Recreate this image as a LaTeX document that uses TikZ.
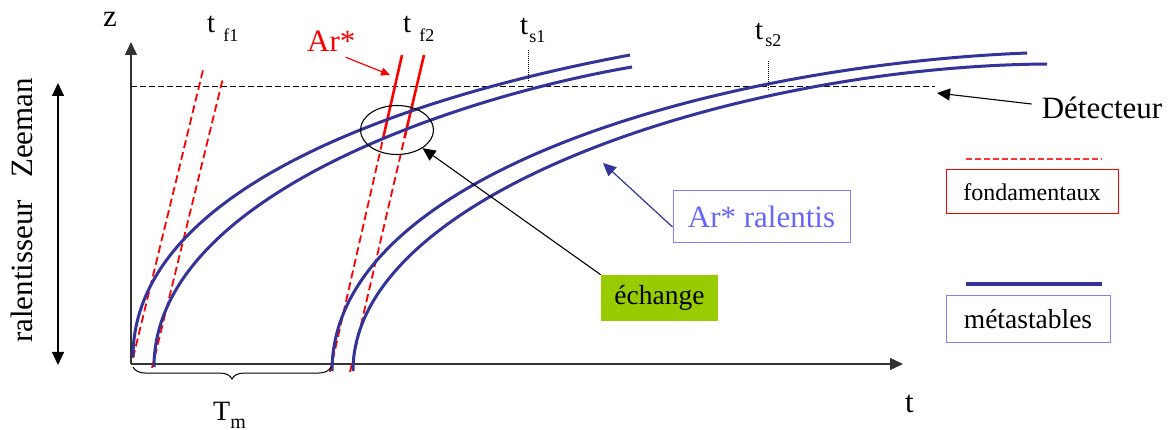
\documentclass[tikz,border=0pt]{standalone}
\usepackage{fontspec}
\setmainfont{Liberation Serif}
\usetikzlibrary{arrows.meta,shapes.geometric,decorations.pathreplacing}
\definecolor{meta}{HTML}{333399}
\definecolor{vert}{HTML}{99CC00}
\definecolor{lblue}{HTML}{6666FF}
\definecolor{bblue}{HTML}{8080FF}
\newcommand{\fs}[1]{\fontsize{#1}{#1}\selectfont}
\tikzset{
  metaline/.style={draw=meta, line width=3pt},
  fondline/.style={draw=red, line width=1.8pt, dash pattern=on 8pt off 4pt},
  fondsolid/.style={draw=red, line width=2.6pt},
  axis/.style={draw=black!80, line width=1.4pt},
  lbl/.style={inner sep=0pt, anchor=base west, font=\fs{29}},
  tip/.style={-{Triangle[length=13pt,width=12pt]}},
}
\begin{document}
\begin{tikzpicture}[x=1pt,y=-1pt]
\useasboundingbox (0,0) rectangle (1173,430);
% axes
\coordinate (O) at (131,364);
\coordinate (ztop) at (131,42);
\coordinate (tend) at (903,364);
\draw[axis, tip] (O) -- (ztop);
\draw[axis, tip] (O) -- (tend);
\node[lbl, font=\fs{31}] (zl) at (103,27) {z};
\node[lbl, font=\fs{31}] (tl) at (905,412) {t};
% detector line
\coordinate (detL) at (131,87);
\coordinate (detR) at (935,87);
\draw[line width=1pt, dash pattern=on 6pt off 3pt] (detL) -- (detR);
% left double arrow
\coordinate (za) at (58,83);
\coordinate (zb) at (58,365);
\draw[line width=1.2pt, {Triangle[length=13pt,width=12pt]}-{Triangle[length=13pt,width=12pt]}] (za) -- (zb);
\node[inner sep=0pt, anchor=base west, rotate=90, font=\fs{31}] (ral) at (32,343) {ralentisseur\hspace{22pt}Zeeman};
% red fundamental lines
\coordinate (a1) at (133,358); \coordinate (a2) at (203.5,68);
\coordinate (b1) at (152,368); \coordinate (b2) at (223,78);
\draw[fondline] (a1) -- (a2);
\draw[fondline] (b1) -- (b2);
\coordinate (c1) at (330,372); \coordinate (c2) at (383.4,137); \coordinate (c3) at (402,55);
\coordinate (d1) at (350,372); \coordinate (d2) at (404.5,138); \coordinate (d3) at (424,55);
\draw[fondline] (c1) -- (c2);
\draw[fondline] (d1) -- (d2);
\draw[fondsolid] (c2) -- (c3);
\draw[fondsolid] (d2) -- (d3);
% metastable curves
\coordinate (m1a) at (133,357); \coordinate (m1b) at (630,55);
\coordinate (m2a) at (154,367); \coordinate (m2b) at (632,67);
\coordinate (m3a) at (332,371); \coordinate (m3b) at (1027,53);
\coordinate (m4a) at (353,371); \coordinate (m4b) at (1047,64);
\draw[metaline] (m1a) .. controls (133,186) and (413,95.4) .. (m1b);
\draw[metaline] (m2a) .. controls (154,194.4) and (464,95.6) .. (m2b);
\draw[metaline] (m3a) .. controls (332,171.5) and (722,65.2) .. (m3b);
\draw[metaline] (m4a) .. controls (353,191) and (743,66) .. (m4b);
% exchange ellipse
\node[ellipse, draw, line width=1.1pt, minimum width=73pt, minimum height=49pt, inner sep=0pt] (ell) at (397,130) {};
% labels t
\node[lbl] (tf1) at (207,33) {t\hspace{8pt}\raisebox{-9pt}{\fs{18}f1}};
\node[lbl] (tf2) at (403,33) {t\hspace{8pt}\raisebox{-9pt}{\fs{18}f2}};
\node[lbl] (ts1) at (520,35) {t\hspace{1pt}\raisebox{-8pt}{\fs{18}s1}};
\node[lbl] (ts2) at (755,40) {t\hspace{2pt}\raisebox{-7pt}{\fs{18}s2}};
\coordinate (s1a) at (528,50); \coordinate (s1b) at (528,81);
\coordinate (s2a) at (768,61); \coordinate (s2b) at (768,91);
\draw[line width=0.6pt, dash pattern=on 1pt off 1pt] (s1a) -- (s1b);
\draw[line width=0.6pt, dash pattern=on 1pt off 1pt] (s2a) -- (s2b);
% Ar* red
\node[lbl, font=\fs{31}, text=red] (ars) at (307,52) {Ar*};
\coordinate (arstip) at (390,75);
\draw[red, line width=1.2pt, -{Triangle[length=9pt,width=8pt]}] ([xshift=-10pt,yshift=-5pt]ars.south east) -- (arstip);
% brace
\draw[line width=1pt, decorate, decoration={brace, mirror, amplitude=12pt}] (133,367) -- (331,367);
\node[lbl, font=\fs{28}] (tm) at (213,420) {T\raisebox{-8pt}{\fs{20}m}};
% detecteur
\node[inner sep=0pt, font=\fs{31}] (det) at (1102,108) {Détecteur};
\coordinate (dettip) at (937,93);
\draw[line width=1.1pt, tip] ([xshift=-10pt,yshift=4pt]det.west) -- (dettip);
% Ar* ralentis
\node[draw=bblue, line width=1pt, text=lblue, font=\fs{31}, minimum width=177pt, minimum height=52pt, inner sep=0pt] (arr) at (761.5,217) {Ar* ralentis};
\coordinate (arrtip) at (603,163);
\draw[meta, line width=1.2pt, tip] ([yshift=-10pt]arr.west) -- (arrtip);
% echange
\node[fill=vert, font=\fs{27.5}, minimum width=117pt, minimum height=46pt, inner sep=0pt] (ech) at (659.5,298) {échange};
\draw[line width=1.1pt, tip] (ech.north west) -- (ell);
% legend
\coordinate (l1a) at (966,159); \coordinate (l1b) at (1102,159);
\draw[draw=red!80, line width=1.5pt, dash pattern=on 6pt off 3pt] (l1a) -- (l1b);
\node[draw=red, line width=1pt, font=\fs{24}, minimum width=172pt, minimum height=44pt, inner sep=0pt] (fond) at (1032,192) {fondamentaux};
\coordinate (l2a) at (966,284); \coordinate (l2b) at (1102,284);
\draw[meta, line width=3.5pt] (l2a) -- (l2b);
\node[draw=bblue, line width=1pt, font=\fs{27.5}, minimum width=164pt, minimum height=47pt, inner sep=0pt] (met) at (1028,319.5) {métastables};
\end{tikzpicture}
\end{document}
